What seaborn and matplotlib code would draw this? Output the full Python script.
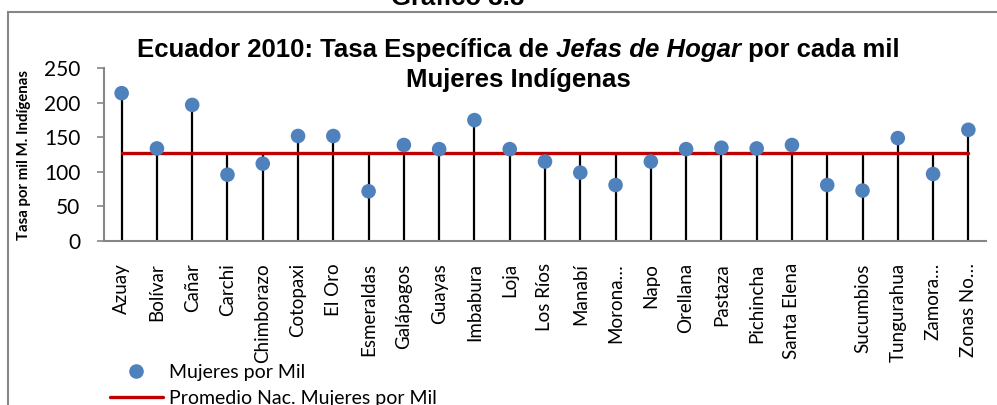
import numpy as np
import pandas as pd
import matplotlib
matplotlib.use("Agg")
import matplotlib.pyplot as plt
from matplotlib.lines import Line2D
from matplotlib.patches import Rectangle
import seaborn as sns

# Provinces (category order on the x axis)
provincias = ["Azuay", "Bolívar", "Cañar", "Carchi", "Chimborazo", "Cotopaxi",
              "El Oro", "Esmeraldas", "Galápagos", "Guayas", "Imbabura", "Loja",
              "Los Ríos", "Manabí", "Morona Santiago", "Napo", "Orellana", "Pastaza",
              "Pichincha", "Santa Elena", "Santo Domingo", "Sucumbios",
              "Tungurahua", "Zamora Chinchipe", "Zonas No Delimitadas"]

# Tick labels as shown on the axis
etiquetas = ["Azuay", "Bolívar", "Cañar", "Carchi", "Chimborazo", "Cotopaxi",
             "El Oro", "Esmeraldas", "Galápagos", "Guayas", "Imbabura", "Loja",
             "Los Ríos", "Manabí", "Morona…", "Napo", "Orellana", "Pastaza",
             "Pichincha", "Santa Elena", "", "Sucumbios",
             "Tungurahua", "Zamora…", "Zonas No…"]

# Female household heads per thousand indigenous women
mujeres_por_mil = [214, 134, 197, 96, 112, 152, 152, 72, 139, 133, 175, 133,
                   115, 99, 81, 115, 133, 135, 134, 139, 81, 73, 149, 97, 161]

# National average
promedio_nac = 128

y_ticks = [0, 50, 100, 150, 200, 250]

df = pd.DataFrame({
    "pos": np.arange(len(provincias)),
    "provincia": provincias,
    "tasa": mujeres_por_mil,
})
df["promedio"] = promedio_nac

sns.set_theme(style="white")
plt.rcParams["font.family"] = ["Lato", "DejaVu Sans"]
plt.rcParams["text.color"] = "black"
plt.rcParams["axes.labelcolor"] = "black"
plt.rcParams["xtick.color"] = "black"
plt.rcParams["ytick.color"] = "black"

W, H = 997, 405
fig = plt.figure(figsize=(W / 100, H / 100), dpi=100)
ax = fig.add_axes([104 / W, 1 - 241 / H, (986 - 104) / W, (241 - 68.3) / H])

blue = "#4F81BD"
red = "#C00000"
gray = "#868686"

# Stems from the axis up to the higher of the value and the average
ax.vlines(df["pos"], 0, np.maximum(df["tasa"], df["promedio"]),
          color="black", linewidth=1.6, zorder=2)

sns.lineplot(data=df, x="pos", y="promedio", color=red, linewidth=2.4,
             ax=ax, zorder=3, legend=False)
sns.scatterplot(data=df, x="pos", y="tasa", color=blue, s=110,
                edgecolor="none", ax=ax, zorder=4, legend=False)

ax.set_xlim(-0.5, len(provincias) - 0.5)
ax.set_ylim(0, 250)
ax.set_yticks(y_ticks)
ax.set_yticklabels([str(t) for t in y_ticks], fontsize=15)
ax.set_xticks(df["pos"])
ax.set_xticklabels(etiquetas, rotation=90, fontsize=13.5, va="top", ha="center")
ax.tick_params(axis="x", length=0, pad=16)
ax.tick_params(axis="y", length=5, width=1.2, color=gray, labelcolor="black",
               pad=12, left=True)
ax.set_xlabel("")
ax.set_ylabel("Tasa por mil M. Indígenas", fontsize=10.8, fontweight="bold")
ax.yaxis.set_label_coords(-0.083, 0.5)

for side in ["top", "right"]:
    ax.spines[side].set_visible(False)
for side in ["left", "bottom"]:
    ax.spines[side].set_color(gray)
    ax.spines[side].set_linewidth(1.5)
ax.grid(False)

# Chart frame
fig.patches.append(Rectangle((7.5 / W, -0.1), 1.2, 1 - 12 / H + 0.1,
                             transform=fig.transFigure, fill=False,
                             edgecolor=gray, linewidth=1.5, zorder=0))

# Caption above the frame
fig.text(458 / W, 1 - 5 / H, "Gráfico 3.8", ha="center", va="baseline",
         fontsize=18.5, fontweight="bold", family=["Liberation Sans"])

# Title with italic segment
title_size = 18.5
pieces = [("Ecuador 2010: Tasa Específica de ", "normal"),
          ("Jefas de Hogar", "italic"),
          (" por cada mil", "normal")]
renderer = fig.canvas.get_renderer()
texts = []
for s, st in pieces:
    t = fig.text(0, 1 - 57 / H, s, fontsize=title_size, fontweight="bold",
                 style=st, family=["Liberation Sans"], va="baseline", ha="left")
    texts.append(t)
widths = [t.get_window_extent(renderer).width for t in texts]
x0 = 518 - sum(widths) / 2
for t, w in zip(texts, widths):
    t.set_x(x0 / W)
    x0 += w
fig.text(518 / W, 1 - 87 / H, "Mujeres Indígenas", fontsize=title_size,
         fontweight="bold", family=["Liberation Sans"], ha="center", va="baseline")

# Legend
handles = [Line2D([], [], marker="o", linestyle="none", color=blue,
                  markersize=10.5, markeredgewidth=0),
           Line2D([], [], color=red, linewidth=2.4)]
fig.legend(handles, ["Mujeres por Mil", "Promedio Nac. Mujeres por Mil"],
           loc="upper left", bbox_to_anchor=(110 / W, 1 - 364 / H),
           frameon=False, fontsize=14, borderpad=0, borderaxespad=0,
           handlelength=2.7, handletextpad=0.35, labelspacing=0.45)

fig.savefig("out.png", dpi=100)
